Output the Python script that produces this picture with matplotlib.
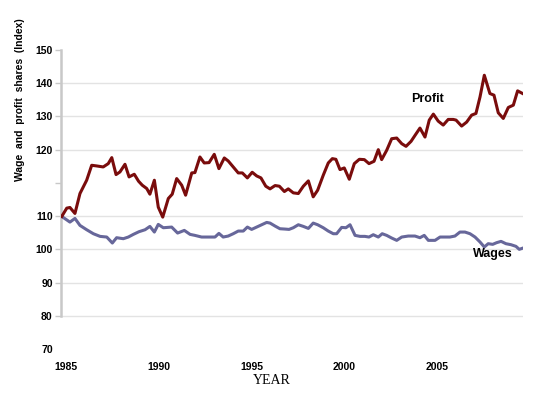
import matplotlib
matplotlib.use("Agg")
import matplotlib.pyplot as plt
import matplotlib.transforms as mtransforms

# values (index, quarterly-ish)
profit_years = [1985.04, 1985.31, 1985.48, 1985.75, 1986.02, 1986.38, 1986.65, 1986.92, 1987.27, 1987.54,
                1987.73, 1987.96, 1988.17, 1988.44, 1988.66, 1988.94, 1989.17, 1989.37, 1989.61, 1989.78,
                1990.02, 1990.23, 1990.47, 1990.77, 1990.98, 1991.22, 1991.49, 1991.70, 1992.03, 1992.20,
                1992.47, 1992.70, 1992.96, 1993.24, 1993.49, 1993.78, 1993.99, 1994.26, 1994.53, 1994.75,
                1995.02, 1995.28, 1995.52, 1995.75, 1996.01, 1996.24, 1996.51, 1996.74, 1997.01, 1997.22,
                1997.49, 1997.76, 1998.03, 1998.30, 1998.56, 1998.80, 1999.10, 1999.37, 1999.59, 1999.78,
                2000.00, 2000.23, 2000.50, 2000.77, 2001.04, 2001.31, 2001.56, 2001.83, 2002.06, 2002.24,
                2002.51, 2002.78, 2003.05, 2003.32, 2003.55, 2003.82, 2004.07, 2004.30, 2004.57, 2004.80,
                2005.02, 2005.28, 2005.55, 2005.82, 2006.09, 2006.24, 2006.54, 2006.81, 2007.08, 2007.31,
                2007.53, 2007.76, 2008.06, 2008.28, 2008.51, 2008.78, 2009.05, 2009.32, 2009.55, 2009.82]
profit_vals = [109.9, 112.4, 112.6, 110.8, 116.8, 120.8, 125.3, 125.1, 124.8, 125.8,
               127.6, 122.5, 123.3, 125.6, 121.8, 122.6, 120.5, 119.3, 118.3, 116.6,
               120.8, 112.7, 109.7, 115.3, 116.6, 121.3, 119.3, 116.3, 123.0, 123.1,
               127.8, 126.0, 126.1, 128.6, 124.3, 127.5, 126.6, 124.8, 123.0, 123.0,
               121.5, 123.2, 122.1, 121.5, 119.0, 118.2, 119.2, 119.0, 117.4, 118.2,
               117.0, 116.8, 119.0, 120.6, 115.8, 117.8, 122.3, 126.0, 127.3, 127.1,
               124.0, 124.5, 121.1, 125.8, 127.1, 127.0, 125.8, 126.5, 130.0, 127.0,
               129.8, 133.3, 133.5, 131.8, 131.0, 132.5, 134.6, 136.5, 133.8, 138.9,
               140.7, 138.6, 137.4, 139.1, 139.1, 138.9, 137.1, 138.3, 140.4, 140.9,
               145.9, 152.4, 146.9, 146.4, 141.1, 139.4, 142.7, 143.4, 147.7, 146.9]

wage_years = [1985.04, 1985.48, 1985.75, 1986.02, 1986.38, 1986.74, 1987.10, 1987.46, 1987.76, 1987.99,
              1988.35, 1988.62, 1988.89, 1989.19, 1989.52, 1989.78, 1990.02, 1990.23, 1990.50, 1990.73,
              1990.95, 1991.27, 1991.63, 1991.94, 1992.20, 1992.56, 1992.80, 1993.06, 1993.28, 1993.49,
              1993.72, 1993.99, 1994.26, 1994.53, 1994.80, 1995.02, 1995.25, 1995.52, 1995.79, 1996.06,
              1996.24, 1996.51, 1996.77, 1997.04, 1997.26, 1997.49, 1997.76, 1998.03, 1998.30, 1998.56,
              1998.80, 1999.10, 1999.37, 1999.64, 1999.82, 2000.09, 2000.32, 2000.54, 2000.81, 2001.08,
              2001.34, 2001.56, 2001.79, 2002.06, 2002.27, 2002.51, 2002.78, 2003.05, 2003.32, 2003.67,
              2004.03, 2004.30, 2004.53, 2004.75, 2005.11, 2005.38, 2005.65, 2005.91, 2006.18, 2006.45,
              2006.72, 2006.99, 2007.26, 2007.53, 2007.76, 2007.97, 2008.21, 2008.42, 2008.66, 2008.92,
              2009.19, 2009.46, 2009.64, 2009.85]
wage_vals = [109.9, 108.2, 109.3, 107.2, 105.9, 104.7, 103.9, 103.7, 101.9, 103.5,
             103.2, 103.7, 104.5, 105.3, 105.9, 106.9, 105.2, 107.5, 106.5, 106.6,
             106.7, 104.9, 105.7, 104.5, 104.2, 103.7, 103.7, 103.7, 103.7, 104.8,
             103.7, 104.0, 104.7, 105.5, 105.5, 106.7, 106.0, 106.7, 107.4, 108.1,
             107.9, 107.0, 106.2, 106.1, 106.0, 106.5, 107.4, 106.9, 106.3, 107.9,
             107.4, 106.5, 105.5, 104.7, 104.7, 106.6, 106.5, 107.4, 104.2, 103.9,
             103.9, 103.7, 104.4, 103.7, 104.7, 104.2, 103.4, 102.7, 103.7, 104.0,
             104.0, 103.5, 104.2, 102.7, 102.7, 103.7, 103.7, 103.7, 104.0, 105.2,
             105.2, 104.7, 103.7, 102.2, 100.7, 101.7, 101.5, 102.0, 102.4, 101.7,
             101.4, 100.9, 100.0, 100.4]

year_ticks = [1985, 1990, 1995, 2000, 2005]
y_ticks = [70, 80, 90, 100, 110, 120, 130, 140, 150, 160]
y_tick_labels = ['70', '80', '90', '100', '110', '', '120', '130', '140', '150']
grid_vals = [80, 90, 100, 110, 130, 140, 150]

plt.rcParams['font.family'] = ['Liberation Sans', 'DejaVu Sans']

fig = plt.figure(figsize=(5.39, 3.95), dpi=100)
ax = fig.add_axes([61/539, 46/395, 462/539, 299/395])

for v in grid_vals:
    ax.axhline(v, color='#e3e3e3', lw=1.0, zorder=0)

ax.plot(wage_years, wage_vals, color='#67679a', lw=2.2, solid_joinstyle='round', zorder=3)
ax.plot(profit_years, profit_vals, color='#7a0c0c', lw=2.2, solid_joinstyle='round', zorder=4)

ax.set_xlim(1985, 2009.84)
ax.set_ylim(70, 160)

for s in ['top', 'right', 'bottom']:
    ax.spines[s].set_visible(False)
ax.spines['left'].set_bounds(80, 160)
ax.spines['left'].set_color('#c8c8c8')
ax.spines['left'].set_linewidth(1.8)

ax.set_yticks(y_ticks)
ax.set_yticklabels(y_tick_labels, fontsize=7.5, fontweight='bold')
ax.tick_params(axis='y', length=4, width=1, color='#c8c8c8', pad=2)
ax.yaxis.get_major_ticks()[0].tick1line.set_visible(False)

ax.set_xticks(year_ticks)
ax.set_xticklabels([str(y) for y in year_ticks], fontsize=7.5, fontweight='bold')
ax.tick_params(axis='x', length=0, pad=9)
offset = mtransforms.ScaledTranslation(4.5/100, 0, fig.dpi_scale_trans)
for lab in ax.get_xticklabels():
    lab.set_transform(lab.get_transform() + offset)

ax.text(2004.68, 145.2, 'Profit', fontsize=9, fontweight='bold', ha='center', va='center')
ax.text(2008.23, 98.5, 'Wages', fontsize=9, fontweight='bold', ha='center', va='center')

fig.text(20/539, 1 - 100/395, 'Wage  and  profit  shares  (Index)', rotation=90,
         fontsize=7.5, fontweight='bold', ha='center', va='center')
fig.text(272/539, 1 - 381/395, 'YEAR', fontsize=10, family='Liberation Serif',
         ha='center', va='center')

fig.savefig('out.png', dpi=100)
